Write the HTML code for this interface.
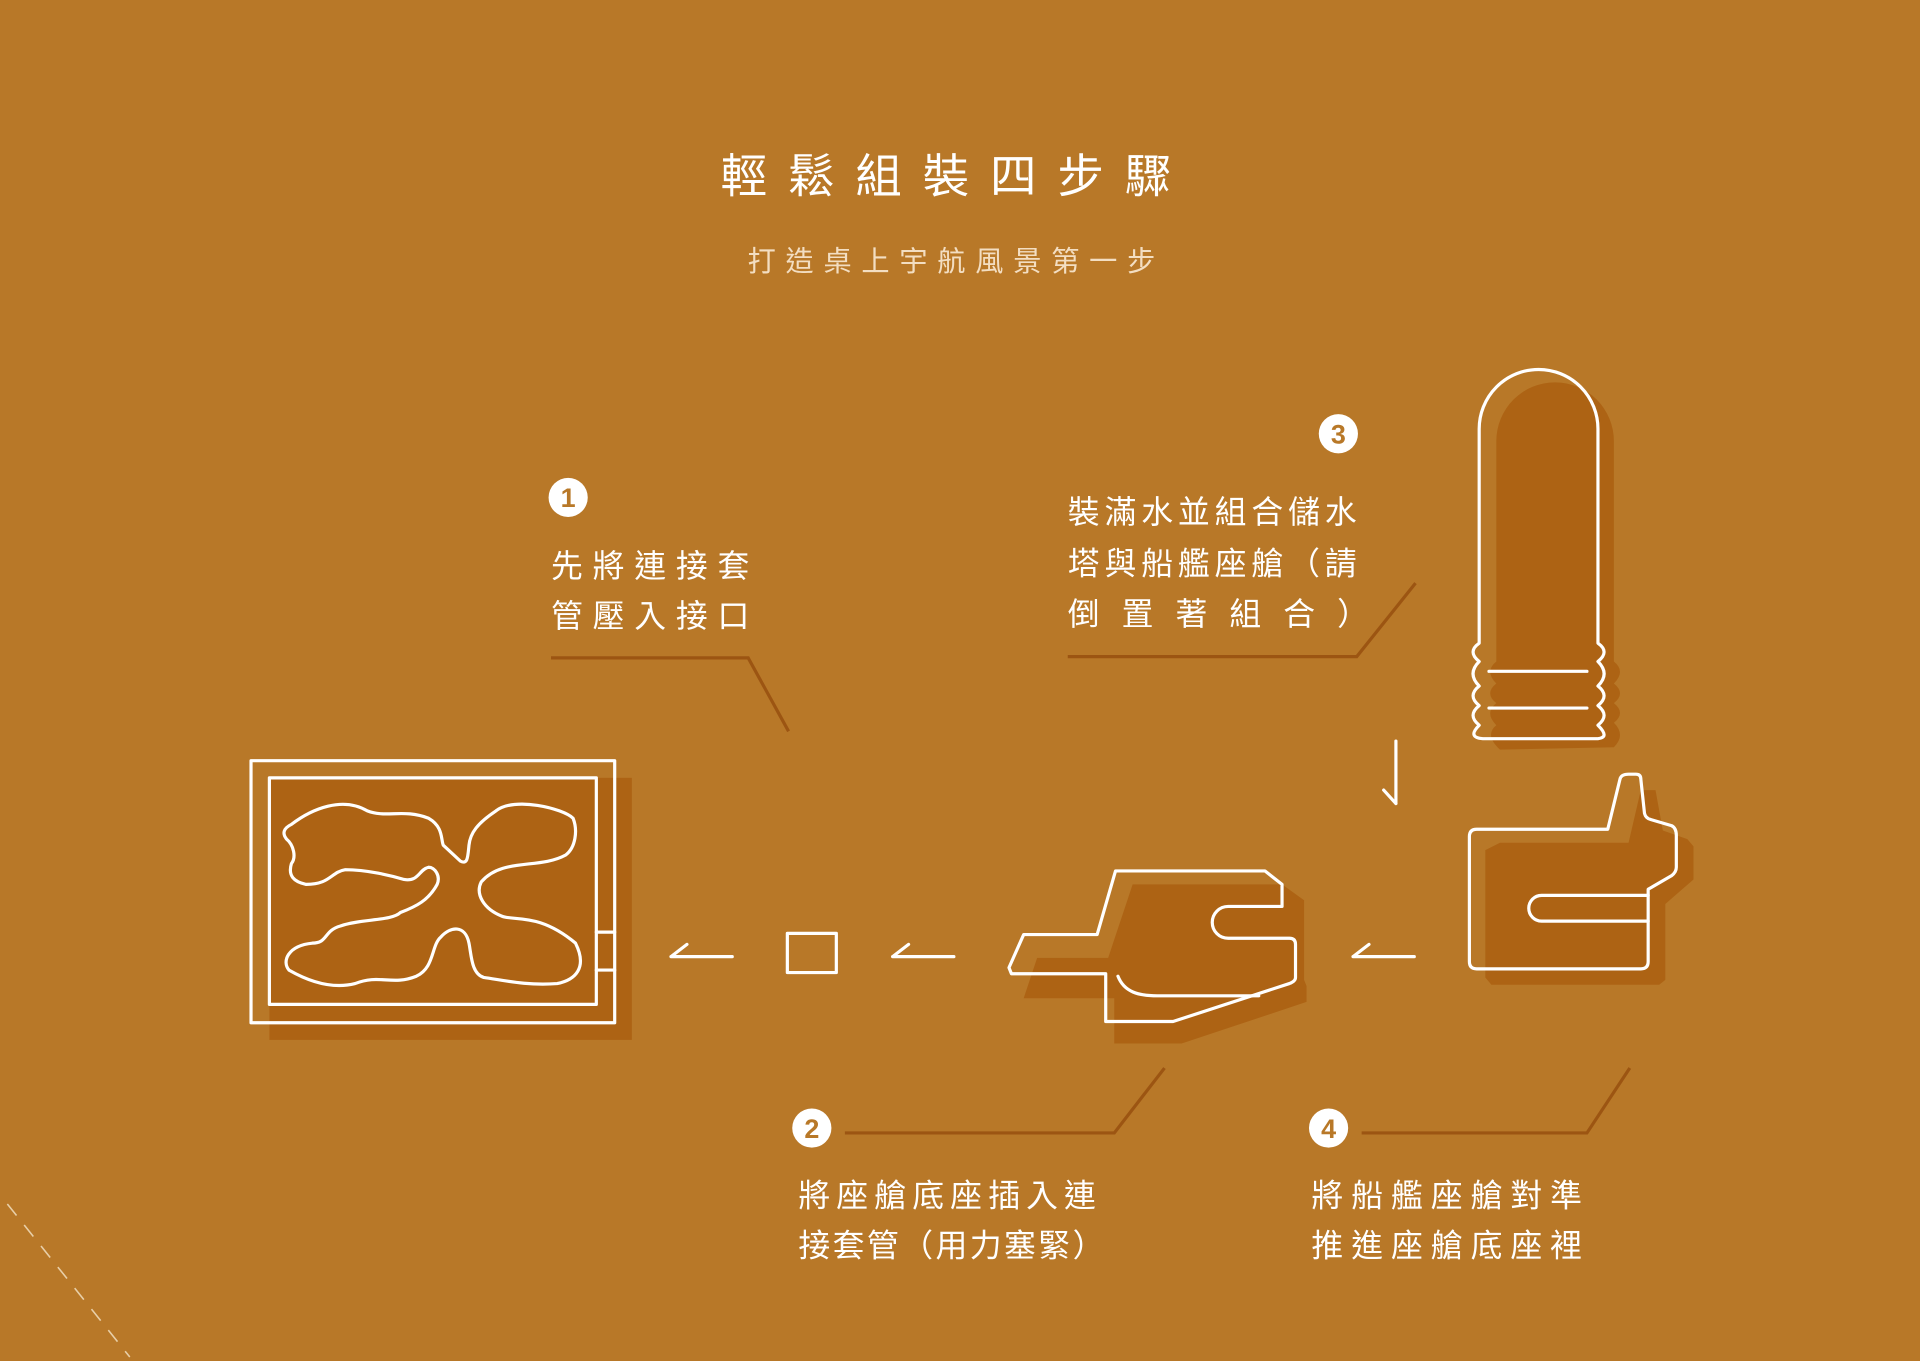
<!DOCTYPE html>
<html><head><meta charset="utf-8"><style>
html,body{margin:0;padding:0;background:#B87828;}
svg{display:block}
text{font-family:"Liberation Sans","Noto Sans CJK TC",sans-serif;}
</style></head><body>
<svg width="1920" height="1361" viewBox="0 0 1568 1111" xmlns="http://www.w3.org/2000/svg">
<rect width="1568" height="1111" fill="#B87828"/>
<text x="781" y="157" text-anchor="middle" font-size="38" fill="#fff" letter-spacing="17" style="font-family:'Noto Sans CJK TC',sans-serif">輕鬆組裝四步驟</text>
<text x="781" y="221" text-anchor="middle" font-size="23" fill="#F3DEC2" letter-spacing="8">打造桌上宇航風景第一步</text>

<!-- shadows -->
<g fill="#AD6314">
<rect x="220" y="635" width="296" height="214"/>
<path d="M925,722 L1047,722 L1065,735 L1065,800 L1067,805 L1067,818 L965,852 L910,852 L910,815 L836,815 L847,782 L905,782 Z"/>
<path d="M1225,688 L1330,688 L1340,645 L1352,645 L1358,678 L1378,685 L1383,691 L1383,718 L1360,738 L1360,800 L1355,804 L1218,804 L1213,798 L1213,694 Z"/>
<path d="M1222,360 A48,48 0 0 1 1318,360 L1318,540 Q1328,548 1318,558 Q1328,566 1318,574 Q1328,582 1318,590 Q1328,600 1318,610 L1225,612 Q1212,600 1222,592 Q1212,582 1222,574 Q1212,566 1222,558 Q1212,548 1222,540 Z"/>
</g>

<g fill="none" stroke="#fff" stroke-width="2.6" stroke-linejoin="round" stroke-linecap="round">
<rect x="205" y="621" width="297" height="214"/>
<rect x="220" y="635" width="267" height="185" fill="#AD6314"/>
<path d="M487,761 L502,761 M487,792 L502,792"/>
<path d="M238,673 C255,660 280,650 300,662 C315,668 330,660 350,668 C362,675 360,685 362,690 L376,703 C382,706 382,700 383,690 C384,680 390,672 405,662 C420,650 460,660 468,668 C472,678 470,692 462,698 C440,710 410,700 393,720 C388,730 395,742 410,748 C420,752 440,745 470,770 C480,790 470,800 455,803 C430,805 410,800 395,798 C385,795 385,780 383,770 C380,755 368,756 360,765 C352,772 355,790 340,797 C320,805 310,795 290,803 C270,808 250,800 236,792 C230,785 235,772 255,770 C268,770 264,760 278,756 C295,750 320,752 327,745 C340,740 350,735 357,722 C360,715 355,708 350,708 C342,710 342,720 330,718 C320,715 300,710 282,710 C270,712 270,722 250,722 C240,720 235,715 238,705 C242,700 240,690 234,685 C230,680 232,676 238,673 Z"/>
<rect x="643" y="762" width="40" height="32"/>
<path d="M548,781 L598,781 M548,781 L561,771"/>
<path d="M729,781 L779,781 M729,781 L742,771"/>
<path d="M1105,781 L1155,781 M1105,781 L1118,771"/>
<path d="M1140,605 L1140,656 M1130,645 L1140,656"/>
<path d="M911,711 L1033,711 L1047,722 L1047,740 L1003,740 A13,13 0 0 0 1003,766 L1053,766 Q1058,766 1058,771 L1058,798 Q1058,801 1053,803 L958,834 L903,834 L903,795 L826,795 L824,790 L836,763 L896,763 Z"/>
<path d="M913,797 C918,810 930,813 945,813 L1028,813"/>
<path d="M1206,677 L1313,677 L1323,636 Q1324,632 1330,632 L1336,632 Q1340,632 1340,636 L1343,664 Q1344,668 1348,669 L1365,674 Q1369,676 1369,682 L1369,708 Q1369,712 1365,715 L1346,726 L1346,785 Q1346,791 1340,791 L1206,791 Q1200,791 1200,785 L1200,683 Q1200,677 1206,677 Z"/>
<path d="M1346,731 L1259,731 A10.5,10.5 0 0 0 1259,752 L1346,752"/>
<path d="M1208,350 A48.5,48.5 0 0 1 1305,350 L1305,525 Q1315,532 1305,540 Q1315,550 1305,560 Q1315,568 1305,576 Q1315,584 1305,592 Q1315,602 1305,603 L1211,603 Q1198,602 1208,592 Q1198,584 1208,576 Q1198,568 1208,560 Q1198,550 1208,540 Q1198,532 1208,525 Z"/>
<path d="M1216,548 L1296,548 M1216,578 L1296,578"/>
</g>

<g fill="none" stroke="#9C5512" stroke-width="2.6">
<path d="M450,537 L611,537 L644,597"/>
<path d="M872,536 L1108,536 L1156,476"/>
<path d="M690,925 L910,925 L951,872"/>
<path d="M1112,925 L1296,925 L1331,872"/>
</g>
<path d="M6,983 L106,1108" stroke="#E8CFA8" stroke-width="1.3" stroke-dasharray="12,10" fill="none"/>

<g fill="#fff"><circle cx="464" cy="406" r="16"/><circle cx="1093" cy="354" r="16"/><circle cx="663" cy="921" r="16"/><circle cx="1085" cy="921" r="16"/></g>
<g fill="#B87828" font-size="22" text-anchor="middle" font-weight="bold">
<text x="464" y="414">1</text><text x="1093" y="362">3</text><text x="663" y="929">2</text><text x="1085" y="929">4</text></g>

<g fill="#fff" font-size="26" letter-spacing="6">
<text x="450" y="471" letter-spacing="8">先將連接套</text>
<text x="450" y="512" letter-spacing="8">管壓入接口</text>
<text x="872" y="427" letter-spacing="4">裝滿水並組合儲水</text>
<text x="872" y="469" letter-spacing="4">塔與船艦座艙（請</text>
<text x="872" y="510" letter-spacing="18">倒置著組合）</text>
<text x="652" y="985" letter-spacing="5">將座艙底座插入連</text>
<text x="652" y="1026" letter-spacing="2">接套管（用力塞緊）</text>
<text x="1071" y="985" letter-spacing="6.5">將船艦座艙對準</text>
<text x="1071" y="1026" letter-spacing="6.5">推進座艙底座裡</text>
</g>
</svg>
</body></html>
